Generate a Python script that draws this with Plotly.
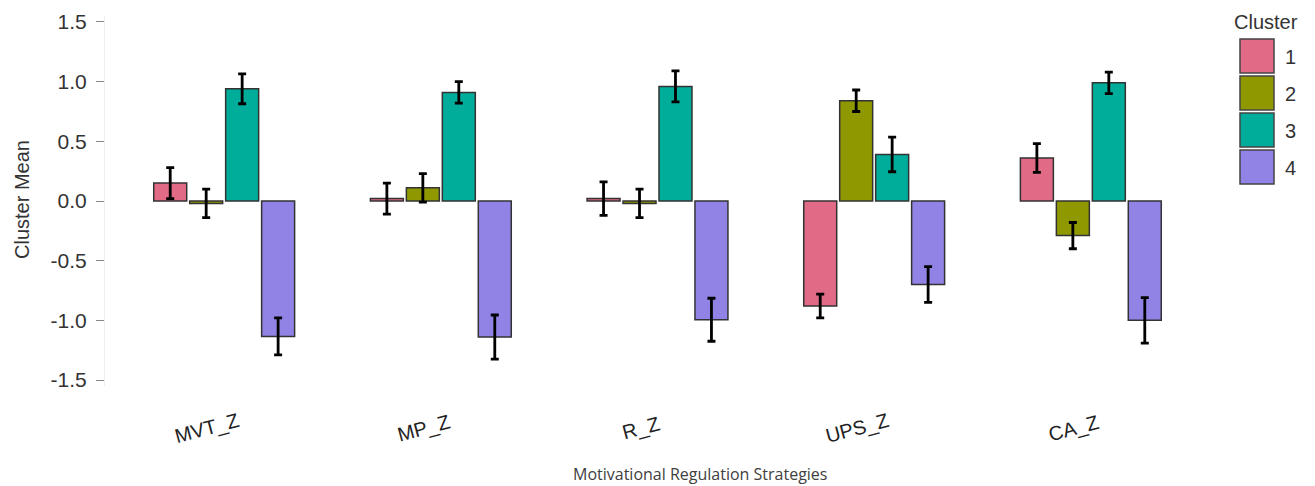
import plotly.graph_objects as go

categories = ["MVT_Z", "MP_Z", "R_Z", "UPS_Z", "CA_Z"]
clusters = ["1", "2", "3", "4"]

cluster1 = [0.15, 0.02, 0.02, -0.88, 0.36]
cluster2 = [-0.02, 0.11, -0.02, 0.84, -0.29]
cluster3 = [0.94, 0.91, 0.96, 0.39, 0.99]
cluster4 = [-1.135, -1.14, -0.995, -0.70, -1.00]

err1 = [0.13, 0.13, 0.14, 0.10, 0.12]
err2 = [0.12, 0.12, 0.12, 0.09, 0.11]
err3 = [0.125, 0.09, 0.13, 0.145, 0.09]
err4 = [0.155, 0.185, 0.18, 0.15, 0.19]

ytick_vals = [-1.5, -1.0, -0.5, 0.0, 0.5, 1.0, 1.5]
ytick_text = ["-1.5", "-1.0", "-0.5", "0.0", "0.5", "1.0", "1.5"]

colors = ["#E16A86", "#909800", "#00AD9A", "#9183E6"]

means = [cluster1, cluster2, cluster3, cluster4]
errs = [err1, err2, err3, err4]

# page offset (body margin) compensation
O = 8
W, H = 1315 - O, 486 - O
ML, MR, MT, MB = 105 - O, 105, 16 - O, 100
PW = W - ML - MR
PH = H - MT - MB


def px(x):
    return (x - O - ML) / PW


def py(y):
    return (H - MB - (y - O)) / PH


fig = go.Figure()
for name, m, e, c in zip(clusters, means, errs, colors):
    fig.add_trace(go.Bar(
        x=categories, y=m, name=name,
        marker=dict(color=c, line=dict(color="#333333", width=1.5)),
        error_y=dict(type="data", array=e, visible=True,
                     color="black", thickness=2.8, width=4),
        showlegend=False,
    ))

shapes = []
annotations = []
# custom legend
annotations.append(dict(x=px(1266), y=py(22), xref="paper", yref="paper",
                        text="Cluster", showarrow=False,
                        font=dict(family="Liberation Sans", size=20, color="#333333"),
                        xanchor="center", yanchor="middle"))
for i, (name, c) in enumerate(zip(clusters, colors)):
    top = 39 + i * 37
    shapes.append(dict(type="rect", xref="paper", yref="paper",
                       x0=px(1240), x1=px(1274), y0=py(top), y1=py(top + 34),
                       fillcolor=c, line=dict(color="#444444", width=1.5)))
    annotations.append(dict(x=px(1283), y=py(top + 18), xref="paper", yref="paper",
                            text=name, showarrow=False,
                            font=dict(family="Liberation Sans", size=20, color="#333333"),
                            xanchor="left", yanchor="middle"))

# x tick labels (rotated)
for cat in categories:
    annotations.append(dict(x=cat, xref="x", y=py(428), yref="paper",
                            text=cat, showarrow=False, textangle=-15, xshift=-17,
                            font=dict(family="Liberation Sans", size=20, color="#222222"),
                            xanchor="center", yanchor="middle"))

# axis titles
annotations.append(dict(x=px(700), y=py(474), xref="paper", yref="paper",
                        text="Motivational Regulation Strategies", showarrow=False,
                        font=dict(family="Open Sans", size=16, color="#404040"),
                        xanchor="center", yanchor="middle"))
annotations.append(dict(x=px(22), y=py(200), xref="paper", yref="paper",
                        text="Cluster Mean", showarrow=False, textangle=-90,
                        font=dict(family="Liberation Sans", size=20, color="#333333"),
                        xanchor="center", yanchor="middle"))

fig.update_layout(
    width=W, height=H,
    margin=dict(l=ML, r=MR, t=MT, b=MB, autoexpand=False),
    paper_bgcolor="white", plot_bgcolor="white",
    barmode="group", bargap=0.336, bargroupgap=0.083,
    shapes=shapes, annotations=annotations,
    font=dict(family="Liberation Sans", color="#333333"),
)
fig.update_xaxes(
    range=[-0.55, 4.55], showgrid=False, zeroline=False, showline=False,
    ticks="", showticklabels=False, automargin=False,
)
fig.update_yaxes(
    range=[-1.55, 1.55], showgrid=False, zeroline=False,
    showline=True, linecolor="#eeeeee", linewidth=1,
    ticks="outside", ticklen=8, tickcolor="#888888", tickwidth=1.2,
    tickvals=ytick_vals, ticktext=ytick_text, ticklabelstandoff=5,
    tickfont=dict(size=21, color="#333333"), automargin=False,
)

fig.write_html("out.html")
